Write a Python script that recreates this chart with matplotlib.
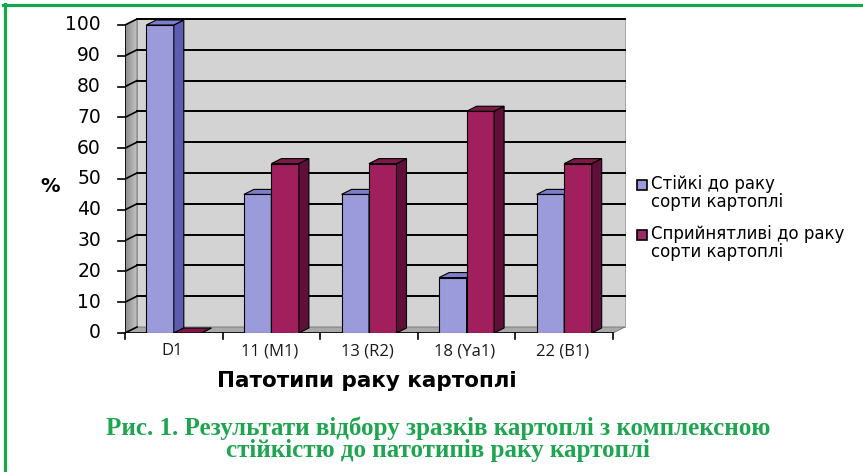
import matplotlib
matplotlib.use("Agg")
import matplotlib.pyplot as plt
import numpy as np
from matplotlib.patches import Polygon
from matplotlib.lines import Line2D

# ---- data ----
categories = ["D1", "11 (M1)", "13 (R2)", "18 (Ya1)", "22 (B1)"]
resistant = [100, 45, 45, 18, 45]
susceptible = [0, 55, 55, 72, 55]
series_names = ["Стійкі до раку\nсорти картоплі", "Сприйнятливі до раку\nсорти картоплі"]
y_ticks = [0, 10, 20, 30, 40, 50, 60, 70, 80, 90, 100]
x_title = "Патотипи раку картоплі"
y_title = "%"
caption = "Рис. 1. Результати відбору зразків картоплі з комплексною\nстійкістю до патотипів раку картоплі"

W, H = 863, 472
fig = plt.figure(figsize=(W / 100, H / 100), dpi=100)
fig.patch.set_facecolor("white")

def fx(px):
    return px / W

def fy(py):
    return 1 - py / H

# axes mapping: x -0.5 -> 125px, 4.5 -> 613px ; y 0 -> 333px, 100 -> 25px
pxu = (613 - 125) / 5.0
pyu = (333 - 25) / 100.0
xlim = (-0.5, 4.72)
ylim = (0, 104)
left = 125
right = left + (xlim[1] - xlim[0]) * pxu
bottom = 333
top = bottom - (ylim[1] - ylim[0]) * pyu
ax = fig.add_axes([fx(left), fy(bottom), (right - left) / W, (bottom - top) / H])
ax.set_xlim(*xlim)
ax.set_ylim(*ylim)
ax.axis("off")

DX = 12 / pxu
DY = 6 / pyu
x0, x1 = -0.5, 4.5

# walls
back = Polygon([(x0 + DX, DY), (x1 + DX, DY), (x1 + DX, 100 + DY), (x0 + DX, 100 + DY)],
               closed=True, facecolor="#d3d3d3", edgecolor="#9a9a9a", lw=0.6, zorder=1)
ax.add_patch(back)
side_wall = Polygon([(x0, 0), (x0 + DX, DY), (x0 + DX, 100 + DY), (x0, 100)],
                    closed=True, facecolor="none", edgecolor="#707070", lw=0.6, zorder=1.2)
ax.add_patch(side_wall)
grad = np.linspace(0, 1, 32).reshape(1, -1)
im = ax.imshow(grad, cmap=matplotlib.colors.LinearSegmentedColormap.from_list("w", ["#8a8a8a", "#c4c4c4"]),
               extent=(x0, x0 + DX, 0, 100 + DY), aspect="auto", zorder=1.1)
im.set_clip_path(side_wall)
ax.add_patch(Polygon([(x0, 0), (x1, 0), (x1 + DX, DY), (x0 + DX, DY)],
                     closed=True, facecolor="#a9a9a9", edgecolor="#707070", lw=0.6, zorder=1))
ax.set_xlim(*xlim)
ax.set_ylim(*ylim)

# gridlines
for v in y_ticks:
    if v > 0:
        ax.add_line(Line2D([x0 + DX, x1 + DX], [v + DY, v + DY], color="black", lw=1.4, zorder=2))
    ax.add_line(Line2D([x0, x0 + DX], [v, v + DY], color="black", lw=1.2, zorder=2))
    ax.add_line(Line2D([x0 - 7 / pxu, x0], [v, v], color="black", lw=1.2, zorder=2, clip_on=False))
    ax.text(x0 - 24 / pxu, v, str(v), ha="right", va="center", fontsize=13.5,
            family="DejaVu Sans", clip_on=False)

# axes lines
ax.add_line(Line2D([x0, x0], [0, 100], color="black", lw=1.2, zorder=2))
ax.add_line(Line2D([x0, x1], [0, 0], color="black", lw=1.2, zorder=2))
for i in range(len(categories) + 1):
    xb = x0 + i
    ax.add_line(Line2D([xb, xb], [0, -6 / pyu], color="black", lw=1.2, zorder=2, clip_on=False))

# bars
bw = 27.5 / pxu
bdx = 10 / pxu
bdy = 5 / pyu
colors = [("#9b9bdb", "#5c5cb2", "#7d7dca"), ("#a21f5e", "#5f0f38", "#7e1849")]
z = 3
for i in range(len(categories)):
    for s, vals in enumerate([resistant, susceptible]):
        v = vals[i]
        xl = i - bw + s * bw
        xr = xl + bw
        front, side, topc = colors[s]
        if v > 0:
            ax.add_patch(Polygon([(xl, 0), (xr, 0), (xr, v), (xl, v)], closed=True,
                                 facecolor=front, edgecolor="black", lw=0.8, zorder=z))
        ax.add_patch(Polygon([(xr, 0), (xr + bdx, bdy), (xr + bdx, v + bdy), (xr, v)], closed=True,
                             facecolor=side, edgecolor="black", lw=0.8, zorder=z))
        ax.add_patch(Polygon([(xl, v), (xr, v), (xr + bdx, v + bdy), (xl + bdx, v + bdy)], closed=True,
                             facecolor=topc, edgecolor="black", lw=0.8, zorder=z + 0.5))
        z += 1
    ax.text(i - 0.02, -18 / pyu, categories[i], ha="center", va="center", fontsize=12,
            family="Open Sans", color="#1a1a1a", clip_on=False)

# legend
leg_line1 = [185, 235]
leg_colors = ["#9b9bdb", "#9a2a66"]
for s in range(2):
    fig.patches.append(plt.Rectangle((fx(637), fy(leg_line1[s] + 5)), 10 / W, 10 / H,
                                     transform=fig.transFigure, facecolor=leg_colors[s],
                                     edgecolor="black", lw=1.2))
    fig.text(fx(651), fy(leg_line1[s] + 8), series_names[s], ha="left", va="center", fontsize=12,
             family="DejaVu Sans", linespacing=0.95)

# titles
fig.text(fx(50), fy(187), y_title, ha="center", va="center", fontsize=14, fontweight="bold",
         family="DejaVu Sans")
fig.text(fx(367), fy(381), x_title, ha="center", va="center", fontsize=15.5, fontweight="bold",
         family="DejaVu Sans")
fig.text(fx(438), fy(439), caption, ha="center", va="center", fontsize=18, fontweight="bold",
         family="Liberation Serif", color="#1ea550", linespacing=0.92)

# green border
fig.lines.append(Line2D([fx(3), fx(863)], [fy(5), fy(5)], transform=fig.transFigure,
                        color="#17a64e", lw=2.3))
fig.lines.append(Line2D([fx(5), fx(5)], [fy(4), fy(472)], transform=fig.transFigure,
                        color="#17a64e", lw=2.3))

fig.savefig("out.png", dpi=100)
